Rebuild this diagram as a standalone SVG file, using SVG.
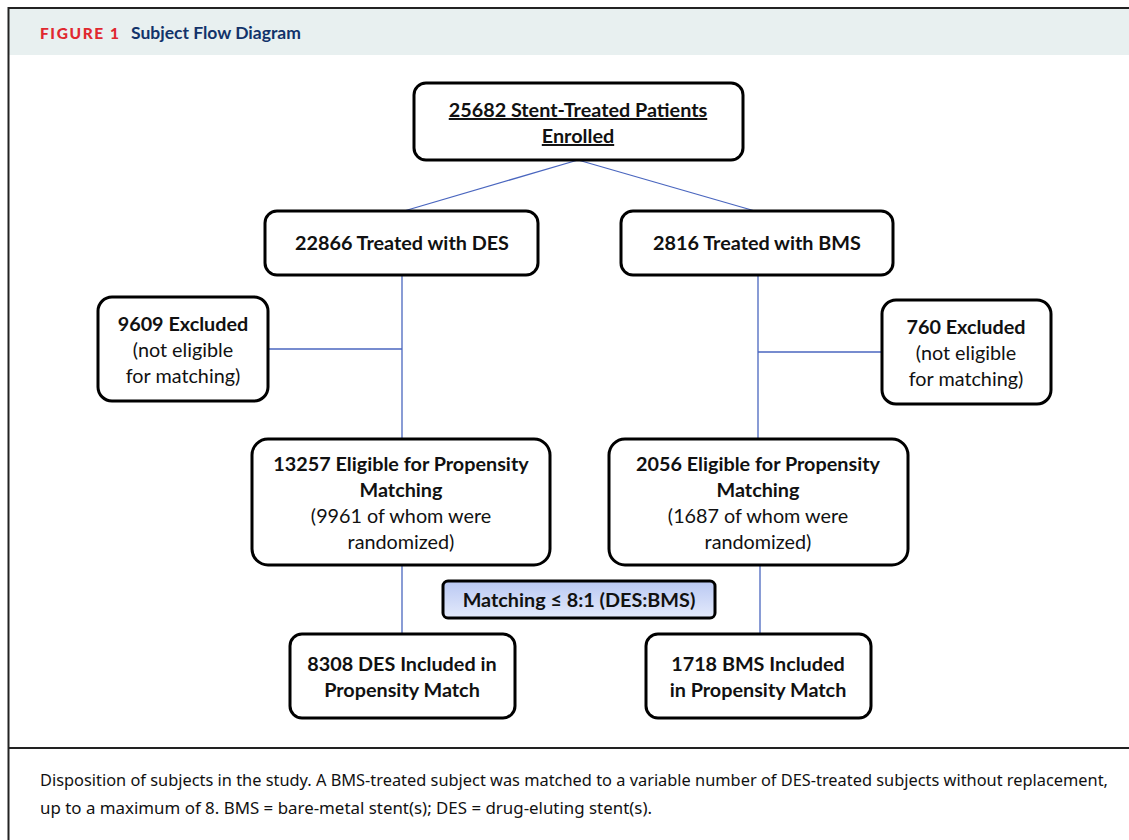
<svg xmlns="http://www.w3.org/2000/svg" width="1129" height="840" viewBox="0 0 1129 840">
<defs>
<style>
.box{fill:#fff;stroke:#000;stroke-width:3}
.t{font-family:Lato,"Open Sans",sans-serif;font-size:19.8px;fill:#111;text-anchor:middle}
.b{font-weight:bold}
.con line{stroke:#4a66bf;stroke-width:1.3}
.cap{font-family:"Noto Sans","Liberation Sans",sans-serif;font-size:16px;fill:#111}
</style>
<linearGradient id="g" x1="0" y1="0" x2="0" y2="1">
<stop offset="0" stop-color="#b9c8f3"/>
<stop offset="1" stop-color="#e4eafb"/>
</linearGradient>
</defs>
<rect x="0" y="0" width="1129" height="840" fill="#fff"/>
<rect x="9" y="9" width="1125" height="46" fill="#e8f0f0"/>
<rect x="8.5" y="8" width="1130" height="840" fill="none" stroke="#222" stroke-width="2"/>
<line x1="8" y1="748" x2="1129" y2="748" stroke="#222" stroke-width="2"/>
<text x="40" y="39" font-family="Lato,sans-serif" font-weight="900" font-size="15.5" fill="#e0282f" letter-spacing="1.6">FIGURE 1</text>
<text x="131" y="39" font-family="Lato,sans-serif" font-weight="bold" font-size="17.5" fill="#12336a">Subject Flow Diagram</text>

<g class="con">
<line x1="578" y1="160" x2="404" y2="211"/>
<line x1="578" y1="160" x2="755" y2="211"/>
<line x1="402" y1="275" x2="402" y2="439"/>
<line x1="268" y1="349" x2="402" y2="349"/>
<line x1="758" y1="275" x2="758" y2="439"/>
<line x1="758" y1="352" x2="882" y2="352"/>
<line x1="402" y1="565" x2="402" y2="634"/>
<line x1="760" y1="565" x2="760" y2="634"/>
</g>

<g id="enrolled">
<rect class="box" x="414" y="83" width="329" height="77" rx="12"/>
<text class="t b" x="578" y="117" text-decoration="underline">25682 Stent-Treated Patients</text>
<text class="t b" x="578" y="143" text-decoration="underline">Enrolled</text>
</g>
<g id="des">
<rect class="box" x="265" y="211" width="273" height="64" rx="12"/>
<text class="t b" x="402" y="250">22866 Treated with DES</text>
</g>
<g id="bms">
<rect class="box" x="621" y="211" width="272" height="64" rx="12"/>
<text class="t b" x="757" y="250">2816 Treated with BMS</text>
</g>
<g id="excl-des">
<rect class="box" x="98" y="297" width="170" height="104" rx="14"/>
<text class="t b" x="183" y="331">9609 Excluded</text>
<text class="t" x="183" y="357">(not eligible</text>
<text class="t" x="183" y="383">for matching)</text>
</g>
<g id="excl-bms">
<rect class="box" x="882" y="300" width="169" height="104" rx="14"/>
<text class="t b" x="966" y="334">760 Excluded</text>
<text class="t" x="966" y="360">(not eligible</text>
<text class="t" x="966" y="386">for matching)</text>
</g>
<g id="elig-des">
<rect class="box" x="252" y="439" width="298" height="126" rx="16"/>
<text class="t b" x="401" y="471">13257 Eligible for Propensity</text>
<text class="t b" x="401" y="497">Matching</text>
<text class="t" x="401" y="523">(9961 of whom were</text>
<text class="t" x="401" y="549">randomized)</text>
</g>
<g id="elig-bms">
<rect class="box" x="609" y="439" width="299" height="126" rx="16"/>
<text class="t b" x="758" y="471">2056 Eligible for Propensity</text>
<text class="t b" x="758" y="497">Matching</text>
<text class="t" x="758" y="523">(1687 of whom were</text>
<text class="t" x="758" y="549">randomized)</text>
</g>
<g id="matching">
<rect x="443" y="581" width="272" height="37" rx="5" fill="url(#g)" stroke="#000" stroke-width="3"/>
<text class="t b" x="579" y="607">Matching ≤ 8:1 (DES:BMS)</text>
</g>
<g id="des-inc">
<rect class="box" x="290" y="634" width="225" height="84" rx="12"/>
<text class="t b" x="402" y="671">8308 DES Included in</text>
<text class="t b" x="402" y="697">Propensity Match</text>
</g>
<g id="bms-inc">
<rect class="box" x="646" y="634" width="225" height="84" rx="12"/>
<text class="t b" x="758" y="671">1718 BMS Included</text>
<text class="t b" x="758" y="697">in Propensity Match</text>
</g>

<text class="cap" x="40" y="786" textLength="1068" lengthAdjust="spacingAndGlyphs">Disposition of subjects in the study. A BMS-treated subject was matched to a variable number of DES-treated subjects without replacement,</text>
<text class="cap" x="40" y="814" textLength="612" lengthAdjust="spacingAndGlyphs">up to a maximum of 8. BMS = bare-metal stent(s); DES = drug-eluting stent(s).</text>
</svg>
